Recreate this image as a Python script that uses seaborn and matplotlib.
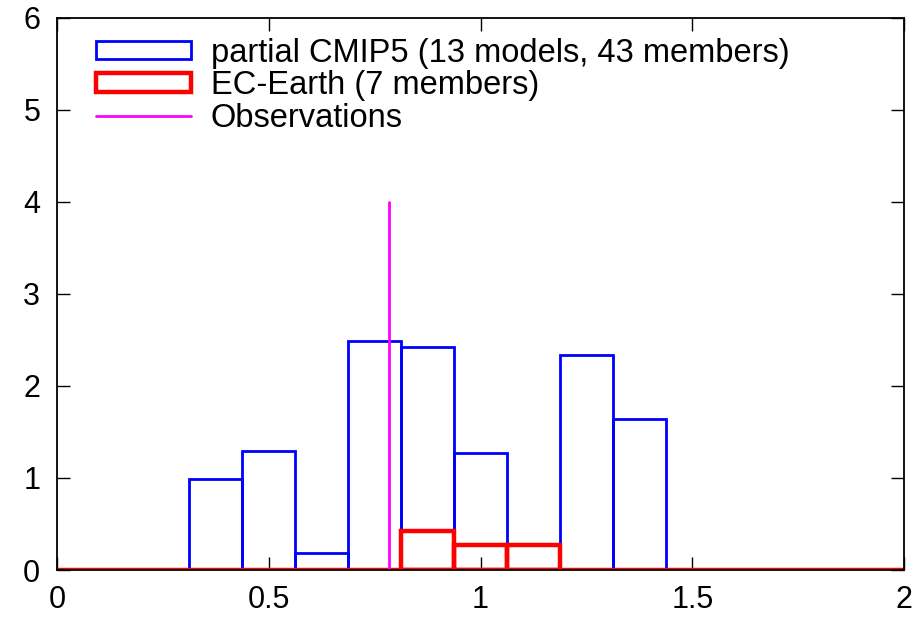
import numpy as np
import pandas as pd
import matplotlib
matplotlib.use("Agg")
import matplotlib.pyplot as plt
import seaborn as sns
from matplotlib.patches import Patch
from matplotlib.lines import Line2D

# Histogram bin edges (width 0.125)
bin_edges = [0.3125, 0.4375, 0.5625, 0.6875, 0.8125, 0.9375, 1.0625, 1.1875, 1.3125, 1.4375]

# Ensemble frequency per bin
cmip5_heights = [0.99, 1.29, 0.19, 2.49, 2.42, 1.27, 0.0, 2.34, 1.64]
ecearth_heights = [0.0, 0.0, 0.0, 0.0, 0.42, 0.27, 0.27, 0.0, 0.0]

# Observed value and the height of its marker line
obs_value = 0.785
obs_top = 4.0

cmip5_label = "partial CMIP5 (13 models, 43 members)"
ecearth_label = "EC-Earth (7 members)"
obs_label = "Observations"

x_limits = (0, 2)
y_limits = (0, 6)
x_ticks = [0, 0.5, 1, 1.5, 2]
x_ticklabels = ["0", "0.5", "1", "1.5", "2"]
y_ticks = [0, 1, 2, 3, 4, 5, 6]

sns.set_theme(style="white")
plt.rcParams["font.family"] = ["Liberation Sans", "DejaVu Sans"]
plt.rcParams["text.color"] = "black"

centers = [(a + b) / 2 for a, b in zip(bin_edges[:-1], bin_edges[1:])]
df_cmip5 = pd.DataFrame({"x": centers, "w": cmip5_heights})
df_ec = pd.DataFrame({"x": [c for c, h in zip(centers, ecearth_heights) if h > 0],
                      "w": [h for h in ecearth_heights if h > 0]})

fig = plt.figure(figsize=(9.15, 6.22), dpi=100)
ax = fig.add_axes([0.0623, 0.0836, 0.9257, 0.8875])

blue = "#0000ff"
red = "#ff0000"
magenta = "#ff00ff"

sns.histplot(data=df_cmip5, x="x", weights="w", bins=bin_edges, fill=False,
             element="bars", color=blue, linewidth=2.0, ax=ax, zorder=2)
ec_edges = [e for e in bin_edges if 0.8 <= e <= 1.2]
sns.histplot(data=df_ec, x="x", weights="w", bins=ec_edges, fill=False,
             element="bars", color=red, linewidth=3.2, ax=ax, zorder=3)

# zero level of the distributions across the whole range
ax.plot(list(x_limits), [0, 0], color=red, linewidth=3.2, zorder=3,
        solid_capstyle="butt")

# observed value
ax.plot([obs_value, obs_value], [0, obs_top], color=magenta, linewidth=2.0, zorder=4)

ax.set_xlim(*x_limits)
ax.set_ylim(*y_limits)
ax.set_xticks(x_ticks)
ax.set_xticklabels(x_ticklabels)
ax.set_yticks(y_ticks)
ax.set_xlabel("")
ax.set_ylabel("")

for s in ax.spines.values():
    s.set_visible(True)
    s.set_color("black")
    s.set_linewidth(1.3)
    s.set_zorder(5)

ax.tick_params(axis="both", which="major", direction="in", length=9.5, width=1.0,
               colors="black", labelcolor="black", labelsize=22, top=True,
               right=True, bottom=True, left=True)
ax.tick_params(axis="y", pad=12)
ax.tick_params(axis="x", pad=11)

handles = [
    Patch(facecolor="none", edgecolor=blue, linewidth=2.0),
    Patch(facecolor="none", edgecolor=red, linewidth=3.2),
    Line2D([0], [0], color=magenta, linewidth=2.0),
]
leg = ax.legend(handles, [cmip5_label, ecearth_label, obs_label], loc="upper left",
                bbox_to_anchor=(0.031, 0.988), frameon=False, fontsize=23.5,
                handlelength=2.9, handleheight=0.5, handletextpad=0.6,
                labelspacing=0.05, borderaxespad=0.0)
for t in leg.get_texts():
    t.set_color("black")

fig.savefig("out.png", dpi=100, facecolor="white")
